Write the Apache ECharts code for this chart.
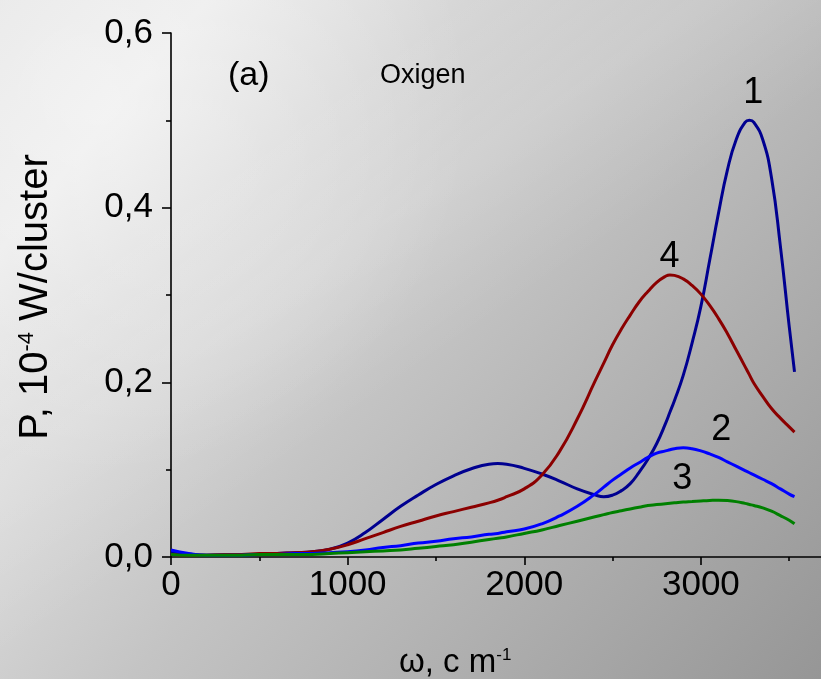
<!DOCTYPE html>
<html>
<head>
<meta charset="utf-8">
<script src="https://cdn.jsdelivr.net/npm/echarts@6/dist/echarts.min.js"></script>
<style>
  html, body { margin: 0; padding: 0; }
  #chart { width: 821px; height: 679px; }
</style>
</head>
<body>
<div id="chart"></div>
<script>
// Emitted power spectra of oxygen clusters, curves 1-4, on a shared frequency grid
const omega = [
  0, 100, 200, 300, 400, 500, 600, 700, 800, 900, 1000, 1100, 1200, 1300, 1400, 1500, 1600, 1700, 1800, 1850, 1900,
  2000, 2100, 2200, 2300, 2400, 2450, 2500, 2550, 2600, 2650, 2700, 2750, 2800, 2825, 2850, 2900, 2950, 3000, 3050, 3100,
  3150, 3200, 3250, 3275, 3300, 3350, 3400, 3450, 3500, 3530
];
const power1 = [
  0.005, 0.003, 0.002, 0.002, 0.003, 0.003, 0.004, 0.005, 0.006, 0.009, 0.016, 0.028, 0.043, 0.058, 0.071, 0.083, 0.093, 0.101, 0.1063, 0.107, 0.1063,
  0.1015, 0.095, 0.087, 0.078, 0.0712, 0.069, 0.0708, 0.076, 0.084, 0.097, 0.112, 0.130, 0.153, 0.166, 0.179, 0.208, 0.245, 0.287, 0.340, 0.394,
  0.443, 0.478, 0.4976, 0.500, 0.4976, 0.478, 0.434, 0.356, 0.264, 0.212
];
const power2 = [
  0.008, 0.004, 0.002, 0.002, 0.002, 0.003, 0.003, 0.004, 0.004, 0.005, 0.006, 0.008, 0.011, 0.013, 0.016, 0.018, 0.021, 0.023, 0.026, 0.027, 0.029,
  0.032, 0.038, 0.047, 0.058, 0.072, 0.080, 0.088, 0.095, 0.102, 0.108, 0.114, 0.119, 0.1215, 0.1228, 0.1240, 0.125, 0.124, 0.1215, 0.118, 0.114,
  0.109, 0.104, 0.099, 0.0965, 0.094, 0.089, 0.084, 0.078, 0.072, 0.069
];
const power3 = [
  0.003, 0.002, 0.002, 0.002, 0.002, 0.003, 0.003, 0.003, 0.003, 0.004, 0.005, 0.006, 0.007, 0.008, 0.010, 0.012, 0.014, 0.017, 0.020, 0.0215, 0.023,
  0.027, 0.031, 0.036, 0.041, 0.046, 0.0485, 0.051, 0.053, 0.055, 0.057, 0.059, 0.060, 0.061, 0.0615, 0.062, 0.063, 0.0636, 0.0642, 0.0647, 0.0650,
  0.0646, 0.0634, 0.0614, 0.0602, 0.0590, 0.0562, 0.0524, 0.0474, 0.042, 0.038
];
const power4 = [
  0.003, 0.002, 0.002, 0.003, 0.003, 0.004, 0.004, 0.005, 0.006, 0.009, 0.014, 0.021, 0.028, 0.035, 0.041, 0.047, 0.052, 0.057, 0.062, 0.065, 0.069,
  0.078, 0.094, 0.121, 0.158, 0.201, 0.222, 0.243, 0.261, 0.277, 0.292, 0.304, 0.3145, 0.3215, 0.323, 0.3225, 0.3185, 0.311, 0.301, 0.288, 0.273,
  0.256, 0.237, 0.218, 0.2085, 0.199, 0.184, 0.170, 0.159, 0.149, 0.143
];

const curveNames = ['1', '2', '3', '4'];
const curveColors = ['#000090', '#0000ff', '#008000', '#8b0000'];
// anchor of each curve's number label, in data coordinates [omega, P]
const curveLabelAt = [[3297, 0.531], [3116, 0.1454], [2895, 0.0893], [2822, 0.3435]];

const xMajorTicks = [0, 1000, 2000, 3000];
const xMinorTicks = [500, 1500, 2500, 3500];

const FONT = '"Liberation Sans", Arial, sans-serif';

const zip = ys => omega.map((x, i) => [x, ys[i]]);
const curves = [zip(power1), zip(power2), zip(power3), zip(power4)];

const chart = echarts.init(document.getElementById('chart'));

const background = [
  {
    type: 'rect', z: -100, silent: true,
    shape: { x: 0, y: 0, width: 821, height: 679 },
    style: {
      fill: {
        type: 'linear', x: 0, y: 0, x2: 1, y2: 1,
        colorStops: [
          { offset: 0, color: '#e4e4e4' },
          { offset: 0.15, color: '#ebebeb' },
          { offset: 0.5, color: '#c4c4c4' },
          { offset: 1, color: '#969696' }
        ]
      }
    }
  },
  {
    type: 'rect', z: -99, silent: true,
    shape: { x: 0, y: 0, width: 821, height: 679 },
    style: {
      fill: {
        type: 'radial', x: 0.12, y: 0.15, r: 0.55,
        colorStops: [
          { offset: 0, color: 'rgba(255,255,255,0.4)' },
          { offset: 1, color: 'rgba(255,255,255,0)' }
        ]
      }
    }
  },
  {
    type: 'rect', z: -98, silent: true,
    shape: { x: 0, y: 0, width: 821, height: 679 },
    style: {
      fill: {
        type: 'linear', x: 0.55, y: 0, x2: 0.75, y2: 0.35,
        colorStops: [
          { offset: 0, color: 'rgba(255,255,255,0)' },
          { offset: 0.5, color: 'rgba(255,255,255,0.12)' },
          { offset: 1, color: 'rgba(255,255,255,0)' }
        ]
      }
    }
  }
];

const texts = [
  {
    type: 'text', left: 228, top: 59, z: 10,
    style: { text: '(a)', font: '34px ' + FONT, fill: '#000' }
  },
  {
    type: 'text', left: 380, top: 62, z: 10,
    style: { text: 'Oxigen', font: '27px ' + FONT, fill: '#000' }
  },
  {
    type: 'text', z: 10, x: 36, y: 297, rotation: Math.PI / 2,
    style: {
      text: 'P, 10{sup|-4} W/cluster',
      font: '40px ' + FONT, fill: '#000',
      align: 'center', verticalAlign: 'middle',
      rich: { sup: { fontSize: 22, fontFamily: FONT, verticalAlign: 'top', fill: '#000' } }
    }
  },
  {
    type: 'text', z: 10, x: 399, y: 663,
    style: {
      text: 'ω, c m{sup|-1}',
      font: '33px ' + FONT, fill: '#000',
      align: 'left', verticalAlign: 'middle',
      rich: { sup: { fontSize: 17, fontFamily: FONT, verticalAlign: 'top', fill: '#000' } }
    }
  }
];

const option = {
  animation: false,
  grid: { left: 171, top: 33, right: 0, bottom: 122 },
  xAxis: [
    {
      type: 'value', min: 0, max: 3680, position: 'bottom',
      axisLine: { lineStyle: { color: '#000', width: 1.6 } },
      axisTick: { customValues: xMajorTicks, length: 8, lineStyle: { color: '#000', width: 1.6 } },
      axisLabel: {
        customValues: xMajorTicks, margin: 11, color: '#000', fontSize: 35, fontFamily: FONT,
        formatter: v => String(v)
      },
      splitLine: { show: false }
    },
    {
      type: 'value', min: 0, max: 3680, position: 'bottom',
      axisLine: { show: false },
      axisTick: { customValues: xMinorTicks, length: 4, lineStyle: { color: '#000', width: 1.6 } },
      axisLabel: { show: false },
      splitLine: { show: false }
    }
  ],
  yAxis: {
    type: 'value', min: 0, max: 0.6, interval: 0.2,
    axisLine: { show: true, lineStyle: { color: '#000', width: 1.6 } },
    axisTick: { show: true, length: 9, lineStyle: { color: '#000', width: 1.6 } },
    minorTick: { show: true, splitNumber: 2, length: 5, lineStyle: { color: '#000', width: 1.6 } },
    axisLabel: {
      margin: 18, color: '#000', fontSize: 35, fontFamily: FONT,
      formatter: v => v.toFixed(1).replace('.', ',')
    },
    splitLine: { show: false }
  },
  series: [0, 3, 1, 2].map(i => ({
    type: 'line', name: curveNames[i], data: curves[i],
    xAxisIndex: 0, yAxisIndex: 0,
    showSymbol: false, smooth: 0.5,
    lineStyle: { color: curveColors[i], width: 3 },
    itemStyle: { color: curveColors[i] }
  })),
  graphic: background.concat(texts)
};

chart.setOption(option);

// curve numbers, placed from data coordinates
const numberLabels = curveLabelAt.map((c, i) => {
  const p = chart.convertToPixel({ gridIndex: 0 }, c);
  return {
    type: 'text', z: 10, x: p[0], y: p[1],
    style: { text: curveNames[i], font: '36px ' + FONT, fill: '#000', align: 'center', verticalAlign: 'middle' }
  };
});
chart.setOption({ graphic: background.concat(texts, numberLabels) });
</script>
</body>
</html>
